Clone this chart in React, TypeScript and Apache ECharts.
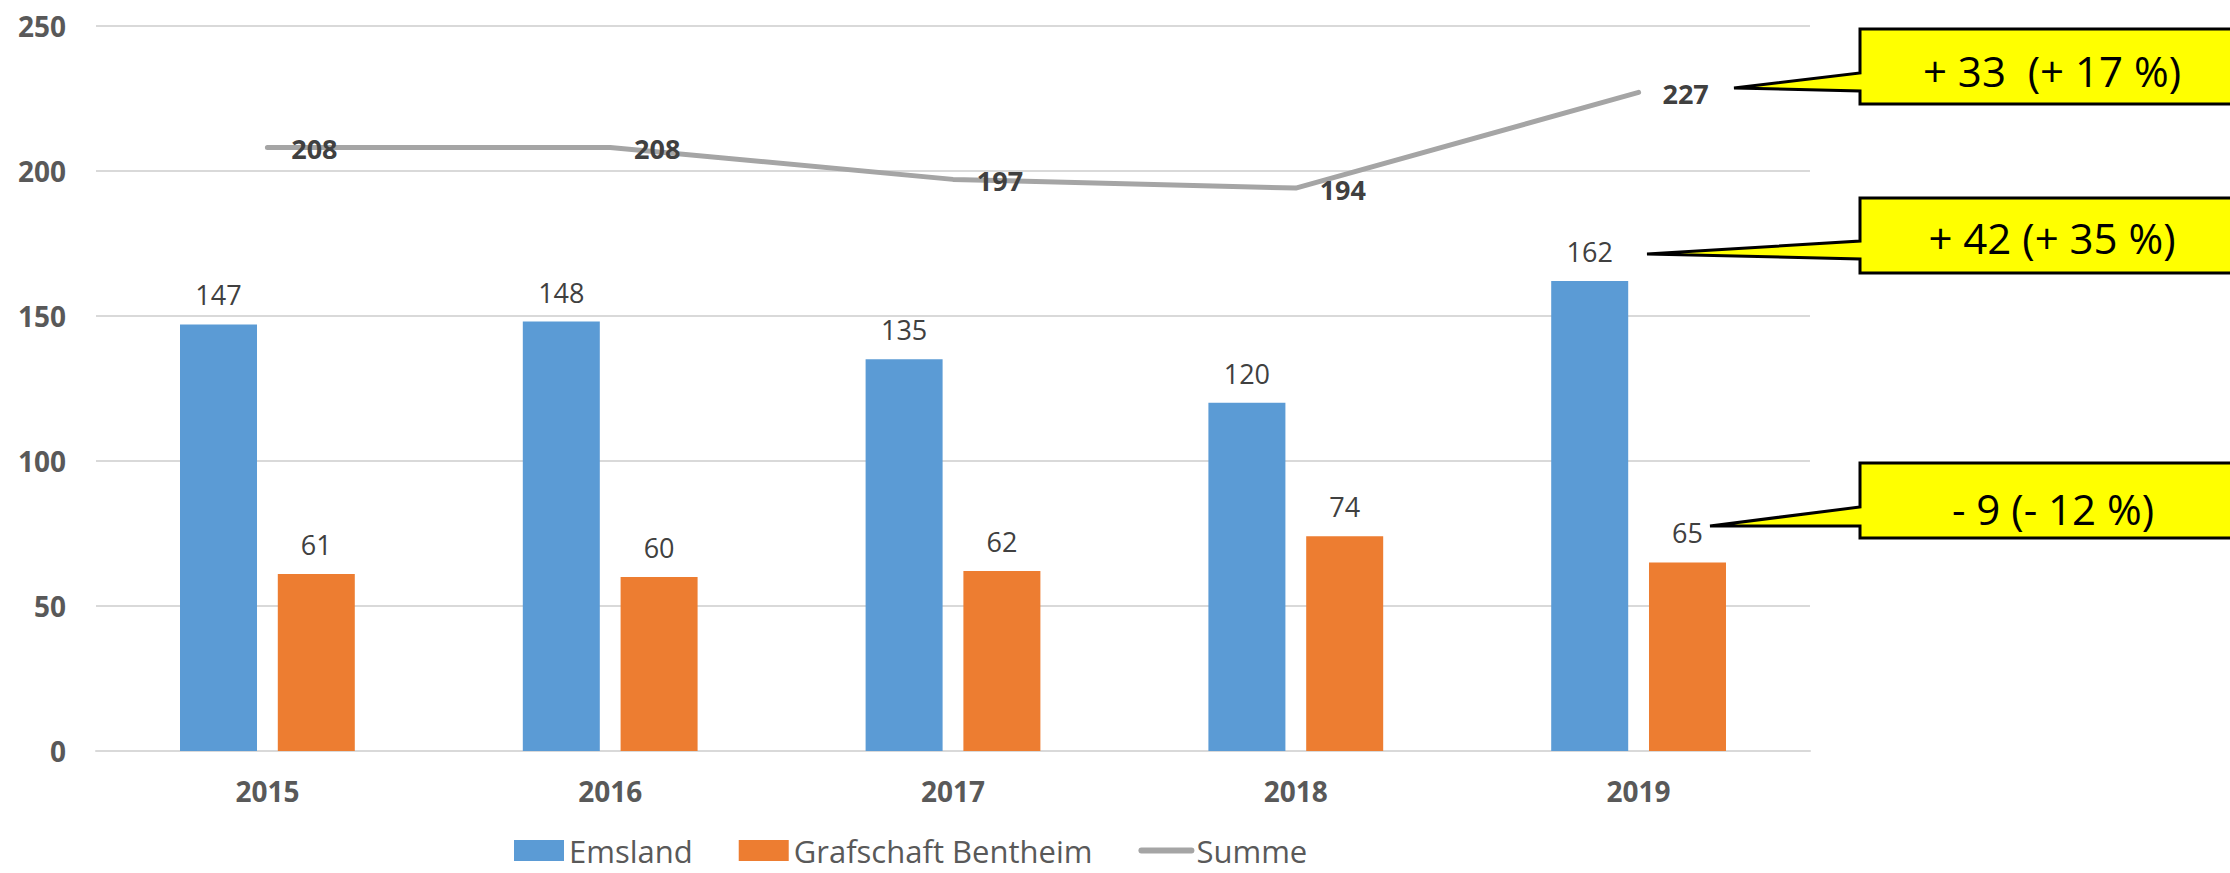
import React, { useEffect, useRef } from "react";
import * as echarts from "echarts";

const years = ["2015", "2016", "2017", "2018", "2019"];
const emsland = [147, 148, 135, 120, 162];
const grafschaft = [61, 60, 62, 74, 65];
const summe = [208, 208, 197, 194, 227];
const seriesNames = ["Emsland", "Grafschaft Bentheim", "Summe"];
const calloutTexts = ["+ 33  (+ 17 %)", "+ 42 (+ 35 %)", "- 9 (- 12 %)"];

const FONT = "'Open Sans', 'Noto Sans', sans-serif";

function callout(points: number[][], text: string, tx: number, ty: number) {
  return [
    {
      type: "polygon",
      z: 100,
      shape: { points },
      style: { fill: "#ffff00", stroke: "#000000", lineWidth: 3, lineJoin: "miter" },
    },
    {
      type: "text",
      z: 101,
      x: tx,
      y: ty,
      style: {
        text,
        align: "center",
        verticalAlign: "middle",
        fontSize: 42,
        fontFamily: FONT,
        fill: "#000000",
      },
    },
  ];
}

export default function App() {
  const ref = useRef<HTMLDivElement>(null);
  useEffect(() => {
    if (!ref.current) return;
    const chart = echarts.init(ref.current, undefined, { renderer: "svg" });
    chart.setOption({
      animation: false,
      backgroundColor: "#ffffff",
      textStyle: { fontFamily: FONT },
      grid: { left: 96, right: 420, top: 25.6, bottom: 122, containLabel: false },
      legend: {
        left: 509,
        top: 830,
        itemWidth: 50,
        itemHeight: 21,
        itemGap: 46,
        textStyle: { fontSize: 31, lineHeight: 31, color: "#595959", fontFamily: FONT },
        data: [
          { name: seriesNames[0], icon: "rect" },
          { name: seriesNames[1], icon: "rect" },
          {
            name: seriesNames[2],
            itemStyle: { opacity: 0 },
            lineStyle: { width: 6, color: "#a5a5a5", cap: "round" },
          },
        ],
      },
      xAxis: {
        type: "category",
        data: years,
        axisTick: { show: false },
        axisLine: { show: true, lineStyle: { color: "#d9d9d9", width: 2 } },
        axisLabel: {
          margin: 26,
          fontSize: 28,
          fontWeight: "bold",
          color: "#595959",
          fontFamily: FONT,
        },
      },
      yAxis: {
        type: "value",
        min: 0,
        max: 250,
        interval: 50,
        axisLine: { show: false },
        axisTick: { show: false },
        splitLine: { lineStyle: { color: "#d9d9d9", width: 2 } },
        axisLabel: {
          margin: 30,
          fontSize: 28,
          fontWeight: "bold",
          color: "#595959",
          fontFamily: FONT,
        },
      },
      series: [
        {
          name: seriesNames[0],
          type: "bar",
          data: emsland,
          barWidth: 77,
          barGap: "27%",
          itemStyle: { color: "#5b9bd5" },
          label: {
            show: true,
            position: "top",
            distance: 16,
            fontSize: 27,
            color: "#404040",
            fontFamily: FONT,
          },
        },
        {
          name: seriesNames[1],
          type: "bar",
          data: grafschaft,
          barWidth: 77,
          barGap: "27%",
          itemStyle: { color: "#ed7d31" },
          label: {
            show: true,
            position: "top",
            distance: 16,
            fontSize: 27,
            color: "#404040",
            fontFamily: FONT,
          },
        },
        {
          name: seriesNames[2],
          type: "line",
          data: summe,
          symbol: "circle",
          symbolSize: 1,
          z: 3,
          itemStyle: { color: "transparent" },
          lineStyle: { color: "#a5a5a5", width: 5, cap: "round", join: "round" },
          label: {
            show: true,
            position: "inside",
            offset: [47, 1],
            fontSize: 27,
            fontWeight: "bold",
            color: "#404040",
            fontFamily: FONT,
          },
        },
      ],
      graphic: [
        ...callout(
          [[1860, 29], [2240, 29], [2240, 104], [1860, 104], [1860, 91], [1734, 88], [1860, 73]],
          calloutTexts[0],
          2052,
          70
        ),
        ...callout(
          [[1860, 198], [2240, 198], [2240, 273], [1860, 273], [1860, 259], [1647, 254], [1860, 241]],
          calloutTexts[1],
          2052,
          237
        ),
        ...callout(
          [[1860, 463], [2240, 463], [2240, 538], [1860, 538], [1860, 526], [1710, 526], [1860, 507]],
          calloutTexts[2],
          2053,
          508
        ),
      ],
    });
    return () => chart.dispose();
  }, []);
  return (
    <div
      ref={ref}
      style={{ position: "absolute", left: 0, top: 0, width: 2230, height: 873, background: "#fff" }}
    />
  );
}
